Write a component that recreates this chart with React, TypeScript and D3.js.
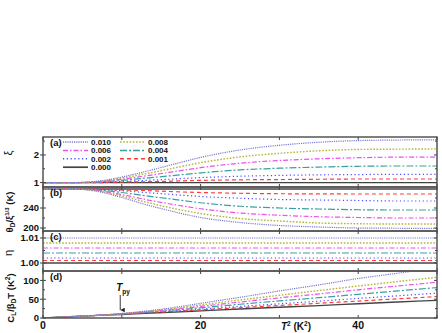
import React from 'react';
import * as d3 from 'd3';

// T^2 sample points (K^2)
const T2 = [0, 4, 7, 10, 13, 16, 20, 25, 30, 35, 40, 45, 50];
const concentrations = ['0.010', '0.008', '0.006', '0.004', '0.002', '0.001', '0.000'];

// panel (a): xi
const xi010 = [1, 1, 1.05, 1.2, 1.4, 1.62, 1.91, 2.18, 2.35, 2.46, 2.52, 2.54, 2.55];
const xi008 = [1, 1, 1.04, 1.16, 1.32, 1.49, 1.72, 1.93, 2.06, 2.15, 2.2, 2.21, 2.22];
const xi006 = [1, 1, 1.03, 1.12, 1.24, 1.37, 1.54, 1.7, 1.8, 1.86, 1.9, 1.92, 1.92];
const xi004 = [1, 1, 1.02, 1.08, 1.16, 1.24, 1.35, 1.46, 1.52, 1.56, 1.59, 1.6, 1.6];
const xi002 = [1, 1, 1.01, 1.04, 1.08, 1.12, 1.18, 1.23, 1.26, 1.28, 1.29, 1.3, 1.3];
const xi001 = [1, 1, 1, 1.02, 1.03, 1.05, 1.08, 1.1, 1.11, 1.12, 1.13, 1.13, 1.13];
const xi000 = [1, 1, 1, 1, 1, 1, 1, 1, 1, 1, 1, 1, 1];

// panel (b): theta_D / xi^(1/3)  (K)
const th010 = [278, 278, 273, 261, 247, 235, 221, 211, 205, 202, 200, 199.5, 199];
const th008 = [278, 278, 274, 264, 252, 241, 229, 219, 214, 210, 208.5, 208, 208];
const th006 = [278, 278, 275, 267, 257, 248.5, 238.5, 230, 225.5, 222.5, 221, 220, 220];
const th004 = [278, 278, 276, 271, 264.5, 258.5, 250.5, 243.5, 240, 238, 236.5, 236, 236];
const th002 = [278, 278, 277, 274.5, 271, 267.5, 263, 259.5, 257, 256, 255, 254, 254];
const th001 = [278, 278, 278, 276, 275, 273, 271, 269.5, 268.5, 268.3, 268, 268, 268];
const th000 = [278, 278, 278, 278, 278, 278, 278, 278, 278, 278, 278, 278, 278];

// panel (c): eta (constant in T)
const etaValues = [1.01, 1.008, 1.006, 1.004, 1.002, 1.001, 1.0];

// panel (d): C_L / beta_D T  (K^2)
const c010 = [0, 4, 7.4, 12, 18.2, 26, 39, 55, 72, 88, 105, 119, 133];
const c008 = [0, 4, 7.2, 11.6, 17.2, 23.8, 34.4, 48, 60.5, 73, 85, 97, 108];
const c006 = [0, 4, 7.1, 11.2, 16.1, 21.9, 30.8, 42.5, 53.5, 64, 75, 85, 95];
const c004 = [0, 4, 7.1, 10.8, 15.1, 19.8, 27, 36.5, 45.5, 54, 63, 72, 81];
const c002 = [0, 4, 7, 10.4, 14, 17.9, 23.6, 30.8, 37.8, 44.8, 52, 59, 66];
const c001 = [0, 4, 7, 10.2, 13.4, 16.8, 21.6, 27.5, 33.3, 39.2, 45, 51, 57];
const c000 = [0, 4, 7, 9.5, 12.5, 15, 19, 24, 28.5, 33, 38, 42.5, 47];

const xTicks = [0, 10, 20, 30, 40, 50];
const xTickLabels = [0, 20, 40];
const T_PY = 9.8;

const styles = [
  { color: '#7b7bd0', dash: '1.2,1', w: 1.2 },
  { color: '#b5b53a', dash: '1.6,1.6', w: 1.4 },
  { color: '#f04cf0', dash: '5,2,1.5,2', w: 1.2 },
  { color: '#3a9f9f', dash: '7,2,2,2', w: 1.2 },
  { color: '#4a4aff', dash: '1.2,2.6', w: 1.2 },
  { color: '#ff3c3c', dash: '4,3', w: 1.2 },
  { color: '#444', dash: null, w: 1.4 },
];

const FONT = '"Liberation Sans", Arial, sans-serif';

export default function App() {
  const x = d3.scaleLinear().domain([0, 50]).range([43, 437]);
  const L = 43, R = 437;

  const panels = [
    { key: 'a', top: 137, bottom: 187, domain: [0.84, 2.65], major: [1, 2], minor: [1.5, 2.5], fmt: (v: number) => String(v), series: [xi010, xi008, xi006, xi004, xi002, xi001, xi000] },
    { key: 'b', top: 187, bottom: 231, domain: [194, 282], major: [200, 240], minor: [220, 260, 280], fmt: (v: number) => String(v), series: [th010, th008, th006, th004, th002, th001, th000] },
    { key: 'c', top: 231, bottom: 271, domain: [0.9968, 1.0128], major: [1.0, 1.01], minor: [1.005], fmt: (v: number) => v.toFixed(2), series: etaValues.map(v => T2.map(() => v)) },
    { key: 'd', top: 271, bottom: 318, domain: [0, 125], major: [0, 50, 100], minor: [25, 75], fmt: (v: number) => String(v), series: [c010, c008, c006, c004, c002, c001, c000] },
  ];

  const legendRows = [[0, 1], [2, 3], [4, 5], [6]];

  return (
    <svg width={442} height={333} style={{ position: 'absolute', left: 0, top: 0, background: '#fff' }} fontFamily={FONT}>
      <defs>
        {panels.map(p => (
          <clipPath id={`clip-${p.key}`} key={p.key}>
            <rect x={L} y={p.top} width={R - L} height={p.bottom - p.top} />
          </clipPath>
        ))}
        <marker id="arrow" viewBox="0 0 6 6" refX="3" refY="6" markerWidth="5" markerHeight="5" orient="auto-start-reverse">
          <path d="M0,0 L3,6 L6,0 Z" fill="#222" />
        </marker>
      </defs>

      {panels.map(p => {
        const y = d3.scaleLinear().domain(p.domain).range([p.bottom, p.top]);
        const line = d3.line<number>().x((_, i) => x(T2[i])).y(v => y(v)).curve(d3.curveMonotoneX);
        return (
          <g key={p.key}>
            <g clipPath={`url(#clip-${p.key})`}>
              {p.series.slice().reverse().map((s, ri) => {
                const i = p.series.length - 1 - ri;
                const st = styles[i];
                return (
                  <path key={i} d={line(s) || ''} fill="none" stroke={st.color} strokeWidth={st.w}
                    strokeDasharray={st.dash || undefined} />
                );
              })}
            </g>
            {/* frame */}
            <rect x={L} y={p.top} width={R - L} height={p.bottom - p.top} fill="none" stroke="#555" strokeWidth={1.5} />
            {/* x ticks */}
            {xTicks.map(t => (
              <g key={t} stroke="#444" strokeWidth={1}>
                <line x1={x(t)} x2={x(t)} y1={p.top} y2={p.top + 3} />
                <line x1={x(t)} x2={x(t)} y1={p.bottom} y2={p.bottom - 3} />
              </g>
            ))}
            {/* y ticks */}
            {p.major.map(v => (
              <g key={v}>
                <line x1={L - 3} x2={L + 3} y1={y(v)} y2={y(v)} stroke="#444" />
                <line x1={R - 3} x2={R} y1={y(v)} y2={y(v)} stroke="#444" />
                <text x={L - 4} y={y(v)} dy="0.36em" textAnchor="end" fontSize={9.5} fontWeight="bold" fill="#111">{p.fmt(v)}</text>
              </g>
            ))}
            {p.minor.filter(v => y(v) > p.top + 1 && y(v) < p.bottom - 1).map(v => (
              <g key={v} stroke="#444">
                <line x1={L} x2={L + 2} y1={y(v)} y2={y(v)} />
                <line x1={R - 2} x2={R} y1={y(v)} y2={y(v)} />
              </g>
            ))}
            <text x={50} y={p.top + 9} fontSize={9.5} fontWeight="bold" fill="#111">({p.key})</text>
          </g>
        );
      })}

      {/* legend in panel (a) */}
      {legendRows.map((row, r) => row.map((si, c) => {
        const ly = 142 + r * 8.4;
        const lx = 63 + c * 57;
        const st = styles[si];
        return (
          <g key={si}>
            <line x1={lx} x2={lx + 25} y1={ly} y2={ly} stroke={st.color} strokeWidth={st.w + 0.3} strokeDasharray={st.dash || undefined} />
            <text x={lx + 28} y={ly} dy="0.35em" fontSize={8} fontWeight="bold" fill="#111">{concentrations[si]}</text>
          </g>
        );
      }))}

      {/* T_py marker */}
      <text x={x(T_PY) - 4} y={291} fontSize={10} fontWeight="bold" fontStyle="italic" fill="#111">
        T<tspan fontSize={6.5} fontStyle="normal" dy={2.5}>py</tspan>
      </text>
      <line x1={x(T_PY)} x2={x(T_PY)} y1={295} y2={310} stroke="#222" strokeWidth={0.9} markerEnd="url(#arrow)" />

      {/* x tick labels */}
      {xTickLabels.map(t => (
        <text key={t} x={x(t)} y={329} textAnchor="middle" fontSize={10.5} fontWeight="bold" fill="#111">{t}</text>
      ))}
      <text x={296} y={330} textAnchor="middle" fontSize={10} fontWeight="bold" fill="#111">
        <tspan fontStyle="italic">T</tspan><tspan fontSize={6.5} dy={-4}>2</tspan><tspan dy={4}> (K</tspan><tspan fontSize={6.5} dy={-4}>2</tspan><tspan dy={4}>)</tspan>
      </text>

      {/* y labels */}
      <text transform="translate(12,153) rotate(-90)" textAnchor="middle" fontSize={11} fill="#111">ξ</text>
      <text transform="translate(13,212) rotate(-90)" textAnchor="middle" fontSize={9.5} fontWeight="bold" fill="#111">
        θ<tspan fontSize={6.5} dy={2}>D</tspan><tspan dy={-2}>/ξ</tspan><tspan fontSize={6} dy={-4}>1/3</tspan><tspan dy={4}> (K)</tspan>
      </text>
      <text transform="translate(12,253) rotate(-90)" textAnchor="middle" fontSize={11} fill="#111">η</text>
      <text transform="translate(14,298) rotate(-90)" textAnchor="middle" fontSize={9.5} fontWeight="bold" fill="#111">
        C<tspan fontSize={6.5} dy={2}>L</tspan><tspan dy={-2}>/β</tspan><tspan fontSize={6.5} dy={2}>D</tspan><tspan dy={-2}>T (K</tspan><tspan fontSize={6.5} dy={-4}>2</tspan><tspan dy={4}>)</tspan>
      </text>
    </svg>
  );
}
